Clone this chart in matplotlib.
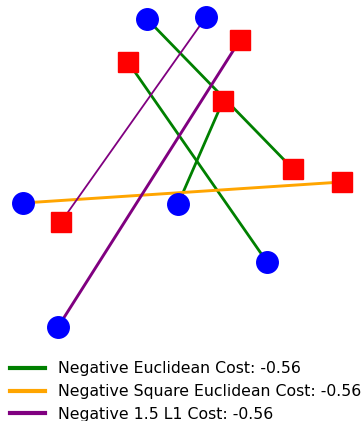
import matplotlib
matplotlib.use("Agg")
import matplotlib.pyplot as plt
from matplotlib.lines import Line2D

# Source points (blue circles) and target points (red squares)
src_x = [1.47, 2.06, 0.23, 1.78, 2.67, 0.58]
src_y = [4.02, 4.04, 2.18, 2.17, 1.59, 0.94]
tgt_x = [1.28, 2.40, 2.23, 2.93, 3.42, 0.61]
tgt_y = [3.59, 3.81, 3.20, 2.52, 2.39, 1.99]

# Matches: (source index, target index, width)
green_pairs = [(0, 3, 2.0), (3, 2, 2.0), (4, 0, 2.0)]
orange_pairs = [(2, 4, 2.1)]
purple_pairs = [(1, 5, 1.3), (5, 1, 2.1)]

labels = ["Negative Euclidean Cost: -0.56",
          "Negative Square Euclidean Cost: -0.56",
          "Negative 1.5 L1 Cost: -0.56"]
colors = ["green", "orange", "purple"]

fig = plt.figure(figsize=(3.63, 4.21), dpi=100)
ax = fig.add_axes([0, 0, 1, 1])
ax.set_xlim(0, 3.63)
ax.set_ylim(0, 4.21)
ax.axis("off")

for pairs, c in zip([green_pairs, orange_pairs, purple_pairs], colors):
    for i, j, w in pairs:
        ax.plot([src_x[i], tgt_x[j]], [src_y[i], tgt_y[j]], color=c, lw=w, zorder=1)

ax.plot(src_x, src_y, "o", color="blue", markersize=15.5, zorder=3, linestyle="none")
ax.plot(tgt_x, tgt_y, "s", color="red", markersize=14.5, zorder=3, linestyle="none")

handles = [Line2D([0], [0], color=c, lw=3) for c in colors]
ax.legend(handles, labels, loc="lower left", bbox_to_anchor=(0.028, -0.002),
          frameon=False, fontsize=11.3, handlelength=2.25, borderpad=0.0,
          labelspacing=0.5, handletextpad=0.8, borderaxespad=0.0)

fig.savefig("out.png", dpi=100)
